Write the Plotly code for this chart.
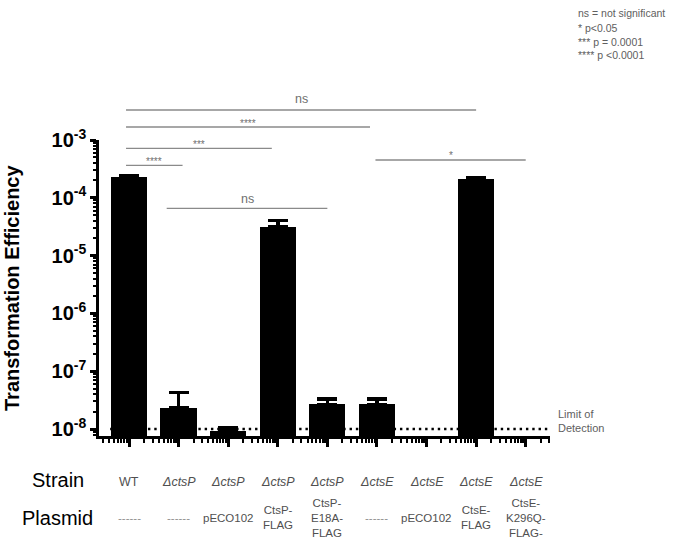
import numpy as np
import plotly.graph_objects as go

# ---------------- data ----------------
strains = ["WT", "ΔctsP", "ΔctsP", "ΔctsP", "ΔctsP", "ΔctsE", "ΔctsE", "ΔctsE", "ΔctsE"]
plasmids = ["------", "------", "pECO102", "CtsP-\nFLAG", "CtsP-\nE18A-\nFLAG",
            "------", "pECO102", "CtsE-\nFLAG", "CtsE-\nK296Q-\nFLAG-"]
efficiency = [2.3e-4, 2.33e-8, 9.4e-9, 3.17e-5, 2.67e-8, 2.67e-8, None, 2.11e-4, None]
error_up = [0.15e-4, 2.0e-8, 1.3e-9, 0.85e-5, 0.63e-8, 0.63e-8, None, 0.12e-4, None]
limit_of_detection = 1e-8
y_decades = [-8, -7, -6, -5, -4, -3]

# comparisons: (group a, group b, label)
comparisons = [(0, 7, "ns"), (0, 5, "****"), (0, 3, "***"), (0, 1, "****"), (5, 8, "*"), (1, 4, "ns")]
legend_lines = ["ns = not significant", "* p<0.05", "*** p = 0.0001", "**** p <0.0001"]

# ---------------- layout geometry ----------------
W, H = 680, 538
L, R, T, B = 99, 130, 140, 102
plot_w = W - L - R
plot_h = H - T - B
x_range = [-0.605, 8.49]
y_range = [-8.12, -3.0]
FONT = "Arial, Liberation Sans, sans-serif"
GRAY = "#606060"


def px_to_paper_y(p):
    return (H - B - p) / plot_h


def px_to_paper_x(p):
    return (p - L) / plot_w


n = len(strains)
xpos = list(range(n))

fig = go.Figure()

# limit of detection dotted line
fig.add_trace(go.Scatter(
    x=[-0.38, x_range[1]], y=[limit_of_detection, limit_of_detection],
    mode="lines", line=dict(color="black", width=2.6, dash="2.4px,3.9px"),
    hoverinfo="skip", showlegend=False))

fig.add_trace(go.Bar(
    x=xpos, y=efficiency, width=0.73,
    marker=dict(color="black", line=dict(width=0)),
    error_y=dict(type="data", symmetric=False, array=error_up,
                 arrayminus=[0] * n, color="black", thickness=3.5, width=10),
    showlegend=False))

# minor ticks on x axis (GraphPad style log-like pattern)
x_minor = []
for i in range(n + 1):
    for k in range(2, 10):
        v = i - 1 + np.log10(k)
        if x_range[0] < v < x_range[1]:
            x_minor.append(v)

y_minor = []
for d in range(-9, -3):
    for k in range(2, 10):
        v = k * 10.0 ** d
        if y_range[0] < np.log10(v) < y_range[1]:
            y_minor.append(v)

fig.update_xaxes(
    range=x_range, showgrid=False, zeroline=False,
    showline=True, linecolor="black", linewidth=2.5,
    tickmode="array", tickvals=xpos, showticklabels=False,
    ticks="outside", ticklen=8, tickwidth=2.5, tickcolor="black",
    minor=dict(tickmode="array", tickvals=x_minor, ticks="outside",
               ticklen=4, tickwidth=2, tickcolor="black"))

fig.update_yaxes(
    type="log", range=y_range, showgrid=False, zeroline=False,
    showline=True, linecolor="black", linewidth=2.5,
    tickmode="array", tickvals=[10.0 ** d for d in y_decades],
    ticktext=[f"<b>10<sup>{d}</sup></b>" for d in y_decades],
    tickfont=dict(family=FONT, size=20, color="black"),
    ticks="outside", ticklen=6, tickwidth=2.5, tickcolor="black",
    minor=dict(tickmode="array", tickvals=y_minor, ticks="outside",
               ticklen=3.5, tickwidth=1.8, tickcolor="black"))

shapes = []
annotations = []

# significance brackets (style/placement)
bracket_style = [
    # (x0, x1, line y px, text y px, font size)
    (-0.06, 7.0, 110, 99, 12.5),
    (-0.06, 4.86, 127, 123, 10),
    (-0.06, 2.88, 148.3, 144, 10),
    (-0.06, 1.08, 165.3, 161, 10),
    (4.97, 8.0, 160, 155, 10),
    (0.76, 4.0, 208.3, 198.5, 12.5),
]
for (a, b, lab), (x0, x1, ly, ty, fs) in zip(comparisons, bracket_style):
    yl = px_to_paper_y(ly)
    shapes.append(dict(type="line", xref="x", yref="paper", x0=x0, x1=x1, y0=yl, y1=yl,
                       line=dict(color="#8a8a8a", width=1.3)))
    annotations.append(dict(xref="x", yref="paper", x=(x0 + x1) / 2, y=px_to_paper_y(ty),
                            text=lab, showarrow=False, xanchor="center", yanchor="middle",
                            font=dict(family=FONT, size=fs, color="#707070")))

# p-value legend
for j, line in enumerate(legend_lines):
    annotations.append(dict(xref="paper", yref="paper", x=px_to_paper_x(576),
                            y=px_to_paper_y(13.5 + 14 * j), text=line, showarrow=False,
                            xanchor="left", yanchor="middle",
                            font=dict(family=FONT, size=10.5, color=GRAY)))

# limit of detection label
annotations.append(dict(xref="paper", yref="paper", x=px_to_paper_x(556),
                        y=px_to_paper_y(421.3), text="Limit of<br>Detection", showarrow=False,
                        xanchor="left", yanchor="middle", align="left",
                        font=dict(family=FONT, size=11, color=GRAY)))

# y axis title
annotations.append(dict(xref="paper", yref="paper", x=px_to_paper_x(12), y=px_to_paper_y(288),
                        text="<b>Transformation Efficiency</b>", textangle=-90, showarrow=False,
                        xanchor="center", yanchor="middle",
                        font=dict(family=FONT, size=20, color="black")))

# row headers
annotations.append(dict(xref="paper", yref="paper", x=px_to_paper_x(58), y=px_to_paper_y(480),
                        text="Strain", showarrow=False, xanchor="center", yanchor="middle",
                        font=dict(family=FONT, size=20, color="black")))
annotations.append(dict(xref="paper", yref="paper", x=px_to_paper_x(57), y=px_to_paper_y(518),
                        text="Plasmid", showarrow=False, xanchor="center", yanchor="middle",
                        font=dict(family=FONT, size=20, color="black")))

# strain labels
for i, s in enumerate(strains):
    txt = s if s == "WT" else f"<i>{s}</i>"
    annotations.append(dict(xref="x", yref="paper", x=i, y=px_to_paper_y(481.5),
                            text=txt, showarrow=False, xanchor="center", yanchor="middle",
                            font=dict(family=FONT, size=12.5, color="#505050")))

# plasmid labels
for i, p in enumerate(plasmids):
    col = "#909090" if set(p) == {"-"} else "#505050"
    annotations.append(dict(xref="x", yref="paper", x=i, y=px_to_paper_y(517.5),
                            text=p.replace("\n", "<br>"), showarrow=False,
                            xanchor="center", yanchor="middle", align="center",
                            font=dict(family=FONT, size=11.5, color=col)))

fig.update_layout(
    width=W, height=H,
    margin=dict(l=L, r=R, t=T, b=B, pad=0),
    paper_bgcolor="white", plot_bgcolor="white",
    shapes=shapes, annotations=annotations,
    bargap=0, showlegend=False,
    font=dict(family=FONT),
)

fig.write_html("out.html", config={"displayModeBar": False},
               post_script="document.body.style.margin='0px';document.body.style.overflow='hidden';")
